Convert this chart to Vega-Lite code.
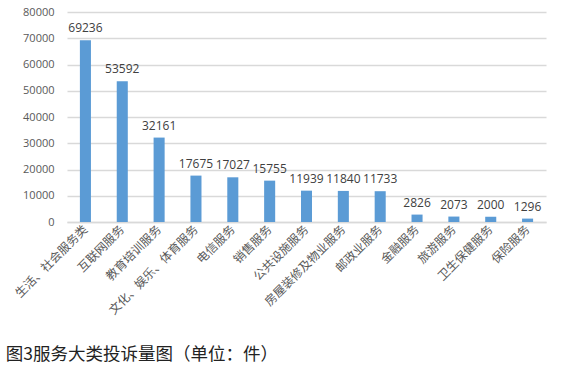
{
  "$schema": "https://vega.github.io/schema/vega-lite/v6.json",
  "width": 479,
  "height": 210,
  "autosize": "none",
  "padding": {"left": 67, "top": 12, "right": 15, "bottom": 155},
  "background": "white",
  "title": {
    "text": "图3服务大类投诉量图（单位：件）",
    "orient": "bottom",
    "anchor": "start",
    "frame": "bounds",
    "font": "Noto Sans CJK SC",
    "fontSize": 17.5,
    "fontWeight": "normal",
    "color": "#222222",
    "offset": 30,
    "dx": -7
  },
  "data": {
    "values": [
      {"cat": "生活、社会服务类", "v": 69236},
      {"cat": "互联网服务", "v": 53592},
      {"cat": "教育培训服务", "v": 32161},
      {"cat": "文化、娱乐、体育服务", "v": 17675},
      {"cat": "电信服务", "v": 17027},
      {"cat": "销售服务", "v": 15755},
      {"cat": "公共设施服务", "v": 11939},
      {"cat": "房屋装修及物业服务", "v": 11840},
      {"cat": "邮政业服务", "v": 11733},
      {"cat": "金融服务", "v": 2826},
      {"cat": "旅游服务", "v": 2073},
      {"cat": "卫生保健服务", "v": 2000},
      {"cat": "保险服务", "v": 1296}
    ]
  },
  "encoding": {
    "x": {
      "field": "cat",
      "type": "nominal",
      "sort": null,
      "scale": {"paddingInner": 0.7, "paddingOuter": 0.35},
      "axis": {
        "title": null,
        "labelAngle": -45,
        "labelAlign": "right",
        "labelBaseline": "middle",
        "labelFont": "Noto Sans CJK SC",
        "labelFontSize": 12,
        "labelColor": "#595959",
        "labelPadding": 5,
        "ticks": false,
        "domainColor": "#D9D9D9",
        "domainWidth": 1.5,
        "labelLimit": 300
      }
    },
    "y": {
      "field": "v",
      "type": "quantitative",
      "scale": {"domain": [0, 80000], "nice": false},
      "axis": {
        "title": null,
        "values": [0, 10000, 20000, 30000, 40000, 50000, 60000, 70000, 80000],
        "format": "d",
        "domain": false,
        "ticks": false,
        "labelFont": "Open Sans",
        "labelFontSize": 11,
        "labelColor": "#595959",
        "labelPadding": 13,
        "gridColor": "#D9D9D9",
        "gridWidth": 1.5
      }
    }
  },
  "layer": [
    {"mark": {"type": "bar", "color": "#5B9BD5"}},
    {
      "mark": {"type": "text", "dy": -12, "font": "Open Sans", "fontSize": 12, "color": "#404040"},
      "encoding": {"text": {"field": "v", "type": "quantitative", "format": "d"}}
    }
  ],
  "config": {"view": {"stroke": null}}
}
